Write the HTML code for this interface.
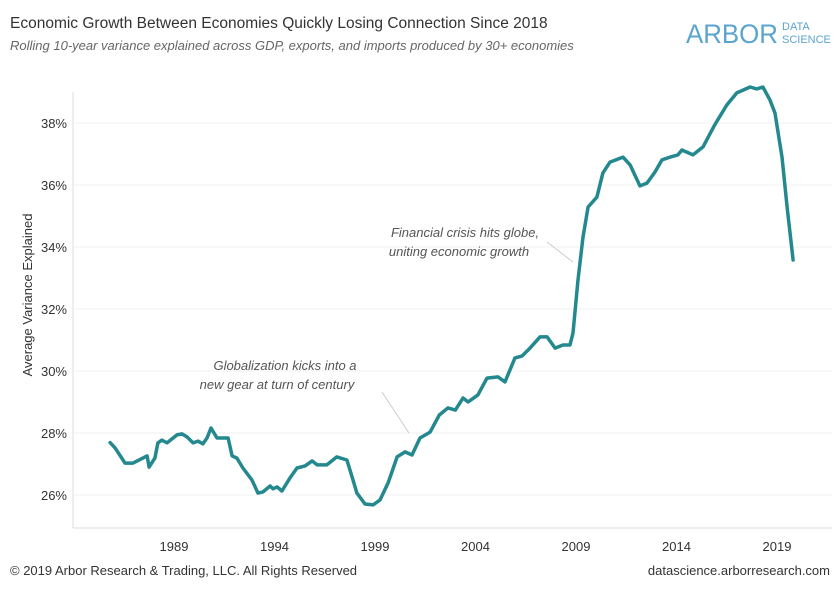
<!DOCTYPE html>
<html><head><meta charset="utf-8"><style>
body{margin:0;background:#fff;font-family:"Liberation Sans",sans-serif;}
svg text{font-family:"Liberation Sans",sans-serif;}
</style></head><body>
<svg id="chart" width="840" height="588" viewBox="0 0 840 588" xmlns="http://www.w3.org/2000/svg">
<text x="10" y="28" font-size="15.5" fill="#333">Economic Growth Between Economies Quickly Losing Connection Since 2018</text>
<text x="10" y="50" font-size="13" font-style="italic" fill="#666">Rolling 10-year variance explained across GDP, exports, and imports produced by 30+ economies</text>
<g>
<text x="686" y="43" font-size="27" fill="#5aa5cf" textLength="92" lengthAdjust="spacingAndGlyphs">ARBOR</text>
<text x="782" y="30" font-size="11" fill="#5aa5cf">DATA</text>
<text x="782" y="43" font-size="11" fill="#5aa5cf">SCIENCE</text>
</g>
<g id="grid"></g>
<line x1="73" y1="92" x2="73" y2="528" stroke="#ddd"/>
<line x1="73" y1="528" x2="832" y2="528" stroke="#ddd"/>
<g id="ticks"></g>
<text transform="translate(32,295) rotate(-90)" text-anchor="middle" font-size="13" fill="#333">Average Variance Explained</text>
<g font-size="13" font-style="italic" fill="#555" text-anchor="middle">
<text x="285" y="370">Globalization kicks into a</text>
<text x="277" y="389">new gear at turn of century</text>
</g>
<line x1="382" y1="392" x2="409" y2="433" stroke="#ccc"/>
<g font-size="13" font-style="italic" fill="#555" text-anchor="middle">
<text x="465" y="237">Financial crisis hits globe,</text>
<text x="459" y="256">uniting economic growth</text>
</g>
<line x1="547" y1="242" x2="573" y2="262" stroke="#ccc"/>
<path id="line" fill="none" stroke="#24888f" stroke-width="3.5" stroke-linejoin="round" stroke-linecap="round"/>
<text x="10" y="575" font-size="13" fill="#333">© 2019 Arbor Research &amp; Trading, LLC. All Rights Reserved</text>
<text x="830" y="575" font-size="13" fill="#333" text-anchor="end">datascience.arborresearch.com</text>
</svg>
<script>
const years=[1985.82,1986.07,1986.56,1986.96,1987.56,1987.66,1987.76,1988.05,1988.2,1988.4,1988.65,1989.15,1989.4,1989.65,1989.95,1990.2,1990.44,1990.64,1990.84,1991.14,1991.69,1991.89,1992.13,1992.43,1992.88,1993.18,1993.43,1993.78,1993.93,1994.13,1994.37,1994.77,1995.12,1995.52,1995.87,1996.12,1996.6,1997.1,1997.6,1997.86,1998.1,1998.5,1998.9,1999.25,1999.65,2000.1,2000.5,2000.84,2001.24,2001.74,2002.2,2002.63,2003.0,2003.38,2003.63,2004.12,2004.57,2005.12,2005.47,2005.96,2006.31,2006.71,2007.21,2007.56,2007.96,2008.35,2008.7,2008.85,2009.1,2009.35,2009.6,2010.04,2010.34,2010.69,2011.34,2011.69,2012.18,2012.53,2012.93,2013.28,2013.68,2014.07,2014.27,2014.82,2015.32,2015.9,2016.5,2017.0,2017.66,2017.99,2018.3,2018.65,2018.9,2019.25,2019.5,2019.8];
const values=[27.69,27.52,27.03,27.03,27.23,27.26,26.9,27.19,27.68,27.77,27.68,27.94,27.97,27.87,27.68,27.74,27.65,27.84,28.16,27.84,27.84,27.26,27.19,26.87,26.48,26.06,26.1,26.29,26.2,26.26,26.13,26.55,26.87,26.94,27.1,26.97,26.97,27.23,27.13,26.58,26.06,25.71,25.68,25.84,26.39,27.23,27.39,27.29,27.84,28.03,28.58,28.81,28.74,29.13,29.0,29.23,29.77,29.81,29.65,30.42,30.48,30.74,31.1,31.1,30.74,30.84,30.84,31.23,32.94,34.32,35.29,35.61,36.39,36.74,36.9,36.65,35.97,36.06,36.42,36.81,36.9,36.97,37.13,36.97,37.23,37.94,38.58,38.97,39.16,39.1,39.16,38.74,38.32,36.9,35.29,33.58];
const yTicks=[26,28,30,32,34,36,38];
const xTicks=[1989,1994,1999,2004,2009,2014,2019];
const NS="http://www.w3.org/2000/svg";
function xs(y){return 174+(y-1989)*20.1;}
function ys(v){return 495-(v-26)*31;}
const grid=document.getElementById('grid'),ticks=document.getElementById('ticks');
yTicks.forEach(t=>{
 const l=document.createElementNS(NS,'line');
 
 
 l.setAttribute('x1',73);l.setAttribute('x2',832);l.setAttribute('y1',ys(t));l.setAttribute('y2',ys(t));l.setAttribute('stroke','#f0f0f0');
 grid.appendChild(l);
 const tx=document.createElementNS(NS,'text');
 
 
 tx.setAttribute('x',67);tx.setAttribute('y',ys(t)+5);tx.setAttribute('text-anchor','end');tx.setAttribute('font-size','13');tx.setAttribute('fill','#333');
 tx.textContent=t+'%';ticks.appendChild(tx);
});
xTicks.forEach(t=>{
 const tx=document.createElementNS(NS,'text');
 
 
 tx.setAttribute('x',xs(t));tx.setAttribute('y',551);tx.setAttribute('text-anchor','middle');tx.setAttribute('font-size','13');tx.setAttribute('fill','#333');
 tx.textContent=t;ticks.appendChild(tx);
});
let d='';
years.forEach((y,i)=>{d+=(i?'L':'M')+xs(y).toFixed(1)+','+ys(values[i]).toFixed(1);});
document.getElementById('line').setAttribute('d',d);
</script>
</body></html>
